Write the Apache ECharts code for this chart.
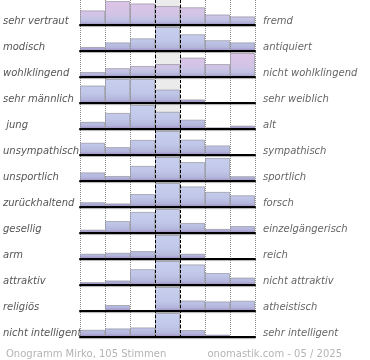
<!DOCTYPE html>
<html><head><meta charset="utf-8">
<script src="https://cdn.jsdelivr.net/npm/echarts@6/dist/echarts.min.js"></script>
<style>html,body{margin:0;padding:0;background:#fff}#c{width:370px;height:360px}</style>
</head><body><div id="c"></div>
<script>
const categories = ['1','2','3','4','5','6','7'];
const leftLabels = ['sehr vertraut','modisch','wohlklingend','sehr männlich',' jung','unsympathisch','unsportlich','zurückhaltend','gesellig','arm','attraktiv','religiös','nicht intelligent'];
const rightLabels = ['fremd','antiquiert','nicht wohlklingend','sehr weiblich','alt','sympathisch','sportlich','forsch','einzelgängerisch','reich','nicht attraktiv','atheistisch','sehr intelligent'];
// relative bar heights per row (row maximum = 100)
const vertraut      = [61,100,90,79,74,44,36];
const modisch       = [17,36,53,100,70,45,36];
const wohlklingend  = [21,37,46,54,81,54,100];
const maennlich     = [73,100,100,56,15,0,0];
const jung          = [30,67,100,72,39,7,14];
const unsympathisch = [51,33,63,100,64,40,4];
const unsportlich   = [36,21,63,100,79,96,20];
const zurueck       = [20,15,54,100,86,63,49];
const gesellig      = [14,50,88,100,42,17,29];
const arm           = [22,26,33,100,22,0,0];
const attraktiv     = [12,19,66,100,86,50,31];
const religioes     = [0,25,0,100,44,40,43];
const intelligent   = [30,36,40,100,29,10,0];
const footerLeft = 'Onogramm Mirko, 105 Stimmen';
const footerRight = 'onomastik.com - 05 / 2025';

const rows = [vertraut,modisch,wohlklingend,maennlich,jung,unsympathisch,unsportlich,zurueck,gesellig,arm,attraktiv,religioes,intelligent];
const pinkRows = [true,false,true,false,false,false,false,false,false,false,false,false,false];

const FONT = 'DejaVu Sans';
const L = 80, W = 175, ROWH = 26, BARH = 24;
const grids = [], xAxes = [], yAxes = [], series = [];

// overlay grid: column band + vertical lines
grids.push({left: L, width: W, top: 0, height: 338});
xAxes.push({gridIndex: 0, type: 'value', min: 0, max: 7, interval: 1,
  axisLine: {show: false}, axisTick: {show: false}, axisLabel: {show: false},
  splitLine: {show: true, lineStyle: {type: 'dotted', color: '#8a8a8a', width: 1}},
  splitArea: {show: true, areaStyle: {color: ['rgba(0,0,0,0)','rgba(0,0,0,0)','rgba(0,0,0,0)','#ebebeb','rgba(0,0,0,0)','rgba(0,0,0,0)','rgba(0,0,0,0)']}}});
yAxes.push({gridIndex: 0, type: 'value', min: 0, max: 1, show: false});
series.push({type: 'line', xAxisIndex: 0, yAxisIndex: 0, data: [], z: 20, silent: true,
  markLine: {symbol: 'none', silent: true, label: {show: false},
    lineStyle: {color: '#000', type: [3, 2], width: 1},
    data: [{xAxis: 3}, {xAxis: 4}]}});

// label grid
grids.push({left: L, width: W, top: 8, height: 338});
xAxes.push({gridIndex: 1, type: 'value', show: false});
yAxes.push({gridIndex: 1, type: 'category', inverse: true, data: leftLabels, position: 'left',
  axisLine: {show: false}, axisTick: {show: false},
  axisLabel: {align: 'left', margin: L, fontFamily: FONT, fontSize: 10, fontStyle: 'italic', color: '#555'}});
yAxes.push({gridIndex: 1, type: 'category', inverse: true, data: rightLabels, position: 'right',
  axisLine: {show: false}, axisTick: {show: false},
  axisLabel: {align: 'left', margin: 8, fontFamily: FONT, fontSize: 10, fontStyle: 'italic', color: '#666'}});

rows.forEach((vals, i) => {
  const gi = grids.length;
  const top = 1 + ROWH * i;
  grids.push({left: L, width: W, top: top, height: BARH});
  xAxes.push({gridIndex: gi, type: 'category', data: categories, boundaryGap: true,
    axisLine: {show: true, onZero: false, lineStyle: {color: '#000', width: 2, shadowColor: 'rgba(0,0,0,0.3)', shadowOffsetY: 1, shadowBlur: 1}},
    axisTick: {show: false}, axisLabel: {show: false}, splitLine: {show: false}, z: 5});
  const yi = yAxes.length;
  yAxes.push({gridIndex: gi, type: 'value', min: 0, max: 100, show: false});
  const stops = pinkRows[i]
    ? [{offset: 0, color: '#dec4e6'}, {offset: 0.55, color: '#d2c4e6'}, {offset: 0.8, color: '#c2c2e4'}, {offset: 0.9, color: '#b2b2da'}, {offset: 1, color: '#9c8cc2'}]
    : [{offset: 0, color: '#c8d0ee'}, {offset: 0.6, color: '#c0c6e8'}, {offset: 0.85, color: '#b4b6dc'}, {offset: 1, color: '#9c8cc2'}];
  series.push({type: 'bar', xAxisIndex: gi, yAxisIndex: yi, barWidth: '100%', barGap: '0%', z: 2,
    data: vals.map(v => v === 0 ? null : v), silent: true, animation: false,
    itemStyle: {
      color: {type: 'linear', x: 0, y: top, x2: 0, y2: top + BARH, global: true, colorStops: stops},
      borderColor: 'rgba(130,130,140,0.55)', borderWidth: 1
    }});
});

const chart = echarts.init(document.getElementById('c'), null, {renderer: 'canvas'});
chart.setOption({
  animation: false,
  title: [
    {text: footerLeft, left: 1, top: 344, textStyle: {fontFamily: FONT, fontSize: 10, fontWeight: 'normal', color: '#b4b4b4'}},
    {text: footerRight, right: 23, top: 344, textStyle: {fontFamily: FONT, fontSize: 10, fontWeight: 'normal', color: '#b4b4b4'}}
  ],
  grid: grids, xAxis: xAxes, yAxis: yAxes, series: series
});
</script></body></html>
